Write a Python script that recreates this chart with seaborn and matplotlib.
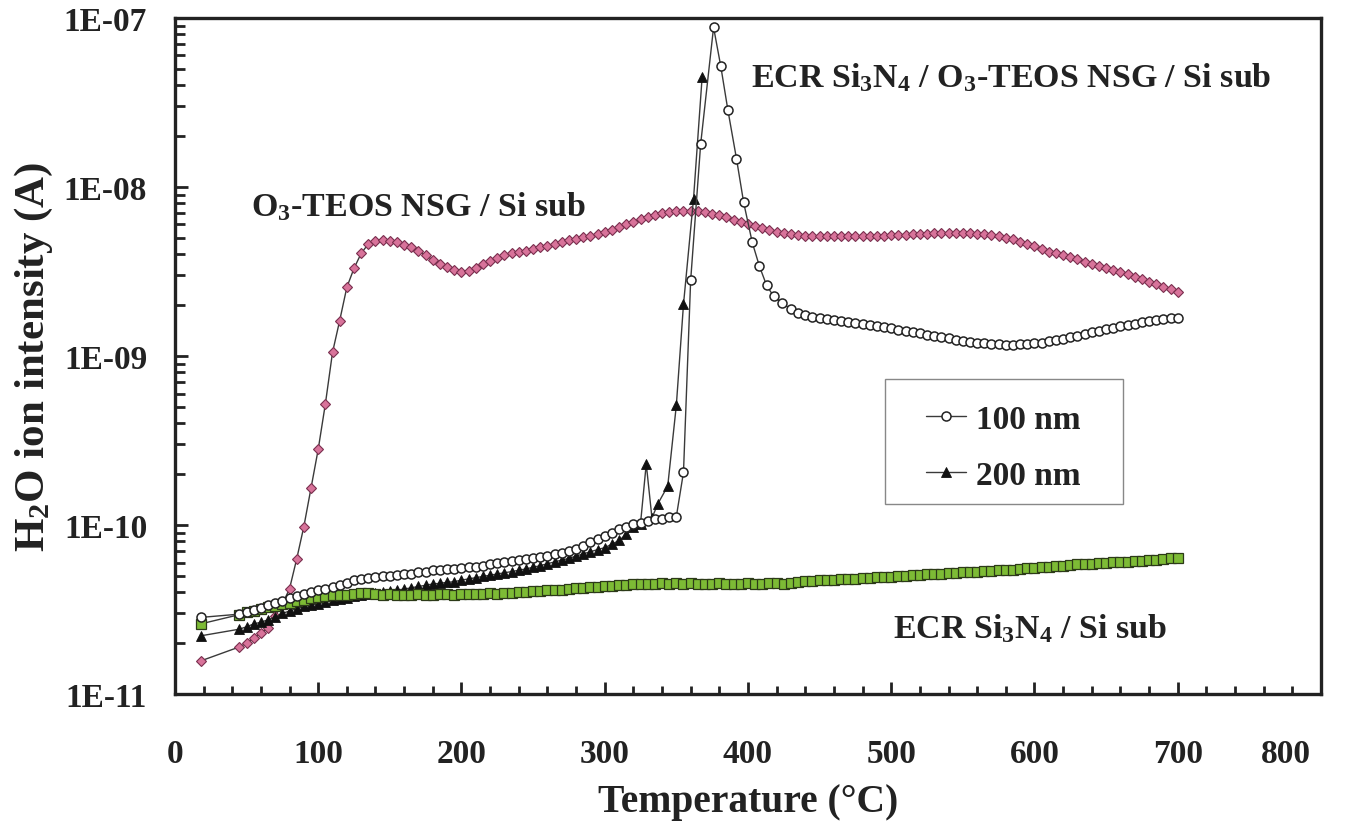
import matplotlib
matplotlib.use("Agg")
import matplotlib.pyplot as plt
import matplotlib.ticker as mticker
from matplotlib.patches import Rectangle
import seaborn as sns
import pandas as pd
import numpy as np

# Temperatures (deg C) of the measurement points
temp_grid = [18] + list(range(45, 705, 5))
temp_100 = [18] + list(range(45, 355, 5)) + [355, 360, 367, 376, 381, 386, 392, 397,
                                             403, 408, 413, 418, 424] + list(range(430, 705, 5))
temp_200 = [18] + list(range(45, 325, 5)) + [325, 329, 333, 337, 344, 350, 355, 362, 368]

# H2O ion intensity, in units of 1E-11 A
sin_si = [2.60,
          2.95, 3.05, 3.12, 3.20, 3.27, 3.33, 3.40, 3.48, 3.56, 3.62,
          3.68, 3.74, 3.80, 3.83, 3.86, 3.88, 3.90, 3.96, 3.98, 3.93,
          3.88, 3.90, 3.86, 3.88, 3.85, 3.90, 3.87, 3.86, 3.90, 3.92,
          3.88, 3.90, 3.92, 3.90, 3.93, 3.95, 3.92, 3.95, 3.97, 4.00,
          4.03, 4.05, 4.08, 4.10, 4.12, 4.15, 4.18, 4.22, 4.25, 4.28,
          4.30, 4.35, 4.38, 4.40, 4.43, 4.45, 4.48, 4.50, 4.50, 4.52,
          4.50, 4.52, 4.50, 4.52, 4.50, 4.48, 4.50, 4.52, 4.50, 4.48,
          4.50, 4.52, 4.50, 4.50, 4.53, 4.52, 4.50, 4.55, 4.60, 4.65,
          4.68, 4.70, 4.72, 4.75, 4.78, 4.80, 4.82, 4.85, 4.85, 4.90,
          4.92, 4.95, 4.98, 5.00, 5.05, 5.08, 5.10, 5.12, 5.15, 5.20,
          5.22, 5.25, 5.28, 5.30, 5.35, 5.38, 5.40, 5.42, 5.45, 5.50,
          5.55, 5.60, 5.62, 5.65, 5.70, 5.75, 5.80, 5.85, 5.90, 5.92,
          5.95, 6.00, 6.02, 6.05, 6.08, 6.10, 6.15, 6.18, 6.22, 6.30,
          6.40, 6.35]

nsg_si = [1.57,
          1.90, 2.00, 2.15, 2.30, 2.45, 2.90, 3.40, 4.20, 6.30, 9.80,
          16.5, 28.0, 52.0, 105, 162, 255, 330, 405, 460, 480,
          485, 480, 470, 455, 440, 420, 395, 370, 350, 335,
          322, 315, 320, 332, 350, 365, 380, 395, 405, 415,
          420, 430, 440, 450, 460, 475, 485, 495, 505, 515,
          525, 540, 560, 580, 600, 620, 645, 665, 685, 700,
          710, 720, 725, 725, 720, 710, 695, 680, 660, 640,
          620, 600, 585, 570, 555, 545, 535, 525, 520, 515,
          515, 510, 510, 510, 510, 510, 512, 512, 515, 515,
          515, 518, 520, 522, 525, 528, 530, 532, 535, 535,
          535, 535, 532, 530, 525, 520, 510, 500, 490, 475,
          460, 445, 430, 415, 405, 395, 385, 375, 362, 350,
          340, 330, 322, 315, 305, 295, 285, 275, 265, 255,
          248, 240]

stack_100 = [2.84,
             2.97, 3.05, 3.15, 3.25, 3.35, 3.45, 3.55, 3.70, 3.80, 3.92,
             4.00, 4.10, 4.20, 4.27, 4.40, 4.55, 4.70, 4.80, 4.88, 4.92,
             4.96, 5.00, 5.05, 5.10, 5.15, 5.30, 5.30, 5.40, 5.45, 5.50,
             5.53, 5.58, 5.62, 5.68, 5.75, 5.85, 5.95, 6.05, 6.15, 6.25,
             6.32, 6.40, 6.50, 6.60, 6.70, 6.85, 7.00, 7.25, 7.50, 7.95,
             8.30, 8.60, 9.00, 9.50, 9.80, 10.1, 10.3, 10.5, 10.8, 10.9,
             11.1, 11.2,
             20.5, 280, 1800, 8800, 5200, 2850, 1470, 810, 470, 340, 262, 225, 205,
             190, 180, 174, 170, 167, 165, 163, 161, 159, 157,
             155, 152, 150, 148, 146, 143, 141, 139, 136, 134,
             131, 129, 127, 125, 123, 121, 120, 119, 118, 117,
             116, 116, 117, 118, 119, 120, 122, 124, 126, 129,
             132, 135, 138, 141, 144, 147, 150, 152, 155, 158,
             161, 163, 165, 167, 168]

stack_200 = [2.21,
             2.42, 2.50, 2.60, 2.66, 2.75, 2.85, 3.00, 3.10, 3.20, 3.30,
             3.36, 3.42, 3.50, 3.58, 3.65, 3.72, 3.80, 3.85, 3.90, 3.95,
             4.00, 4.05, 4.12, 4.18, 4.25, 4.33, 4.40, 4.48, 4.52, 4.58,
             4.62, 4.72, 4.80, 4.88, 4.96, 5.05, 5.13, 5.22, 5.30, 5.40,
             5.50, 5.62, 5.75, 5.90, 6.05, 6.20, 6.35, 6.55, 6.75, 6.95,
             7.15, 7.35, 7.70, 8.10, 8.80, 9.70,
             10.2, 23.0, 11.0, 13.3, 17.0, 51.0, 202, 850, 4450]

x_ticks = [0, 100, 200, 300, 400, 500, 600, 700, 800]
unit = 1e-11

frames = []
for name, t, v in [("ECR Si3N4 / Si sub", temp_grid, sin_si),
                   ("O3-TEOS NSG / Si sub", temp_grid, nsg_si),
                   ("200 nm", temp_200, stack_200),
                   ("100 nm", temp_100, stack_100)]:
    frames.append(pd.DataFrame({"temp": t, "intensity": np.array(v) * unit, "series": name}))
df = pd.concat(frames, ignore_index=True)

sns.set_style("ticks")
plt.rcParams["font.family"] = ["Liberation Serif", "DejaVu Serif"]
plt.rcParams["font.weight"] = "bold"
plt.rcParams["mathtext.default"] = "regular"

ink = "#222222"
fig = plt.figure(figsize=(13.54, 8.29), dpi=100)
ax = fig.add_axes([0.1292, 0.1616, 0.8464, 0.8155])
ax.set_yscale("log")

line_color = "#3a3a3a"
sns.lineplot(data=df[df.series == "O3-TEOS NSG / Si sub"], x="temp", y="intensity", ax=ax,
             estimator=None, sort=False, color=line_color, lw=1.0, marker="D", ms=5.5,
             mfc="#d8739a", mec="#7a2f4e", mew=0.8, legend=False)
sns.lineplot(data=df[df.series == "200 nm"], x="temp", y="intensity", ax=ax,
             estimator=None, sort=False, color=line_color, lw=1.0, marker="^", ms=7,
             mfc="#111111", mec="#111111", mew=0.6, legend=False)
sns.lineplot(data=df[df.series == "ECR Si3N4 / Si sub"], x="temp", y="intensity", ax=ax,
             estimator=None, sort=False, color=line_color, lw=1.0, marker="s", ms=7.3,
             mfc="#7dbb35", mec="#2c3a18", mew=0.9, legend=False)
sns.lineplot(data=df[df.series == "100 nm"], x="temp", y="intensity", ax=ax,
             estimator=None, sort=False, color=line_color, lw=1.0, marker="o", ms=6.5,
             mfc="white", mec="#222222", mew=1.1, legend=False)

ax.set_xlim(0, 800)
ax.set_ylim(1e-11, 1e-7)
ax.set_xticks(x_ticks)
ax.xaxis.set_minor_locator(mticker.MultipleLocator(20))
# the last x label sits a little left of its tick, as in the original
ax.set_xticklabels([str(v) if v != 800 else "" for v in x_ticks])
ax.annotate("800", xy=(800, 0), xycoords=("data", "axes fraction"), xytext=(-25, -32),
            textcoords="offset points", ha="center", va="top", fontsize=24,
            fontweight="bold", color=ink)
ax.yaxis.set_major_locator(mticker.LogLocator(base=10))
ax.yaxis.set_minor_locator(mticker.LogLocator(base=10, subs=np.arange(2, 10)))
ax.yaxis.set_minor_formatter(mticker.NullFormatter())
ax.yaxis.set_major_formatter(mticker.FuncFormatter(lambda v, _: f"{v:.0E}"))

ax.tick_params(axis="both", which="both", direction="in", top=False, right=False,
               width=2, colors=ink, labelsize=24, labelcolor=ink)
ax.tick_params(axis="x", which="major", length=9, pad=32)
ax.tick_params(axis="x", which="minor", length=6)
ax.tick_params(axis="y", which="major", length=9, pad=20)
ax.tick_params(axis="y", which="minor", length=7)
for lab in ax.get_xticklabels() + ax.get_yticklabels():
    lab.set_fontweight("bold")

for side in ["top", "right", "bottom", "left"]:
    ax.spines[side].set_visible(True)
    ax.spines[side].set_linewidth(2.4)
    ax.spines[side].set_color(ink)

ax.set_xlabel("Temperature (°C)", fontsize=28.5, fontweight="bold", color=ink, labelpad=10)
ax.set_ylabel("H$_2$O ion intensity (A)", fontsize=31, fontweight="bold", color=ink,
              labelpad=6)

ax.text(402, 4.5e-8, "ECR Si$_3$N$_4$ / O$_3$-TEOS NSG / Si sub", fontsize=24.5,
        fontweight="bold", color=ink, ha="left", va="center")
ax.text(53, 7.7e-9, "O$_3$-TEOS NSG / Si sub", fontsize=24.5, fontweight="bold",
        color=ink, ha="left", va="center")
ax.text(501, 2.45e-11, "ECR Si$_3$N$_4$ / Si sub", fontsize=24.5, fontweight="bold",
        color=ink, ha="left", va="center")

# legend box drawn separately so its padding matches the original
ax.add_patch(Rectangle((0.6192, 0.2811), 0.2083, 0.1849, transform=ax.transAxes,
                       facecolor="white", edgecolor="#888888", lw=1.0, zorder=4))
leg = ax.legend(handles=[ax.lines[3], ax.lines[1]], labels=["100 nm", "200 nm"],
                loc="upper left", bbox_to_anchor=(0.655, 0.4295), fontsize=24,
                frameon=False, handlelength=1.2, handletextpad=0.3,
                labelspacing=0.75, borderpad=0, borderaxespad=0)
leg.set_zorder(5)
for t in leg.get_texts():
    t.set_fontweight("bold")
    t.set_color(ink)

fig.savefig("out.png", dpi=100)
